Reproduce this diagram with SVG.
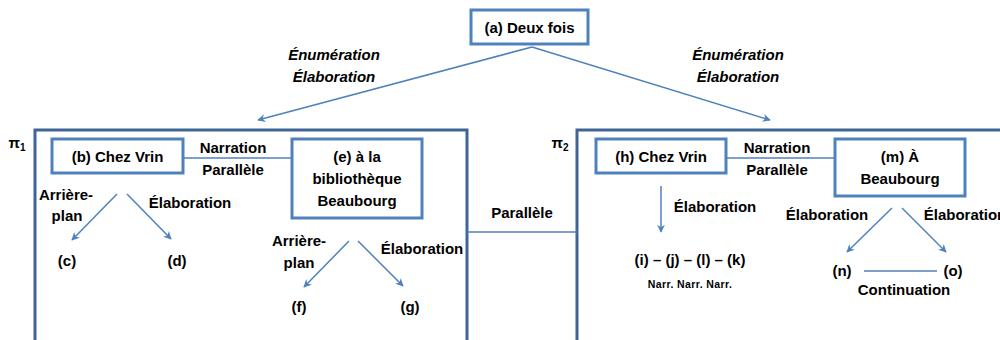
<svg xmlns="http://www.w3.org/2000/svg" width="1000" height="340" viewBox="0 0 1000 340">
<defs>
<style>
text{font-family:"Liberation Sans",Arial,sans-serif;font-weight:bold;font-size:15px;fill:#000;text-anchor:middle}
.it{font-style:italic}
.sm{font-size:10.5px;letter-spacing:0.4px}
.node{fill:#fff;stroke:#4f81bd;stroke-width:3}
.frame{fill:none;stroke:#3f6595;stroke-width:3}
.ln{stroke:#4f81bd;stroke-width:1.5;fill:none}
.ar{stroke:#4f81bd;stroke-width:1.5;fill:none;marker-end:url(#ah)}
</style>
<marker id="ah" viewBox="0 0 10 10" refX="9" refY="5" markerWidth="8" markerHeight="8" markerUnits="userSpaceOnUse" orient="auto">
<path d="M0,0 L10,5 L0,10 L3,5 Z" fill="#4f81bd"/>
</marker>
</defs>
<rect width="1000" height="340" fill="#fff"/>
<g id="frame-pi1">
<rect class="frame" x="35" y="130" width="432" height="230"/>
<text x="17" y="148">π<tspan font-size="10" dy="3">1</tspan></text>
</g>
<g id="frame-pi2">
<rect class="frame" x="577" y="130" width="450" height="230"/>
<text x="560" y="148">π<tspan font-size="10" dy="3">2</tspan></text>
</g>
<g id="connectors">
<line class="ar" x1="532" y1="47" x2="258" y2="120"/>
<line class="ar" x1="532" y1="47" x2="770" y2="120"/>
<line class="ln" x1="183" y1="158" x2="292" y2="158"/>
<line class="ln" x1="726" y1="158" x2="835" y2="158"/>
<line class="ln" x1="467" y1="232" x2="577" y2="232"/>
<line class="ar" x1="117" y1="194" x2="72" y2="240"/>
<line class="ar" x1="127" y1="194" x2="171" y2="239"/>
<line class="ar" x1="349" y1="241" x2="304" y2="287"/>
<line class="ar" x1="358" y1="241" x2="403" y2="286"/>
<line class="ar" x1="661" y1="186" x2="661" y2="232"/>
<line class="ar" x1="892" y1="208" x2="847" y2="252"/>
<line class="ar" x1="902" y1="208" x2="946" y2="252"/>
<line class="ln" x1="864" y1="271" x2="937" y2="271"/>
<text class="it" x="334" y="60">Énumération</text>
<text class="it" x="334" y="82">Élaboration</text>
<text class="it" x="738" y="60">Énumération</text>
<text class="it" x="738" y="82">Élaboration</text>
<text x="233" y="153">Narration</text>
<text x="233" y="175">Parallèle</text>
<text x="777" y="153">Narration</text>
<text x="777" y="175">Parallèle</text>
<text x="522" y="218">Parallèle</text>
<text x="66" y="200">Arrière-</text>
<text x="67" y="221">plan</text>
<text x="190" y="208">Élaboration</text>
<text x="299" y="246">Arrière-</text>
<text x="299" y="268">plan</text>
<text x="422" y="254">Élaboration</text>
<text x="715" y="212">Élaboration</text>
<text x="827" y="220">Élaboration</text>
<text x="965" y="220">Élaboration</text>
<text x="904" y="295">Continuation</text>
</g>
<g id="node-a"><rect class="node" x="471" y="10" width="117" height="34"/><text x="529.5" y="33">(a) Deux fois</text></g>
<g id="node-b"><rect class="node" x="52" y="139" width="131" height="34"/><text x="117.5" y="162">(b) Chez Vrin</text></g>
<g id="node-e"><rect class="node" x="292" y="139" width="130" height="79"/><text x="357" y="162">(e) à la</text><text x="357" y="184">bibliothèque</text><text x="357" y="206">Beaubourg</text></g>
<g id="node-c"><text x="67" y="266">(c)</text></g>
<g id="node-d"><text x="177" y="266">(d)</text></g>
<g id="node-f"><text x="299" y="312">(f)</text></g>
<g id="node-g"><text x="410" y="312">(g)</text></g>
<g id="node-h"><rect class="node" x="596" y="139" width="130" height="34"/><text x="661" y="162">(h) Chez Vrin</text></g>
<g id="node-m"><rect class="node" x="835" y="139" width="130" height="57"/><text x="900" y="162">(m) À</text><text x="900" y="184">Beaubourg</text></g>
<g id="node-ijlk"><text x="690" y="265">(i) – (j) – (l) – (k)</text><text class="sm" x="690" y="288">Narr. Narr. Narr.</text></g>
<g id="node-n"><text x="842" y="276">(n)</text></g>
<g id="node-o"><text x="953" y="276">(o)</text></g>
</svg>
